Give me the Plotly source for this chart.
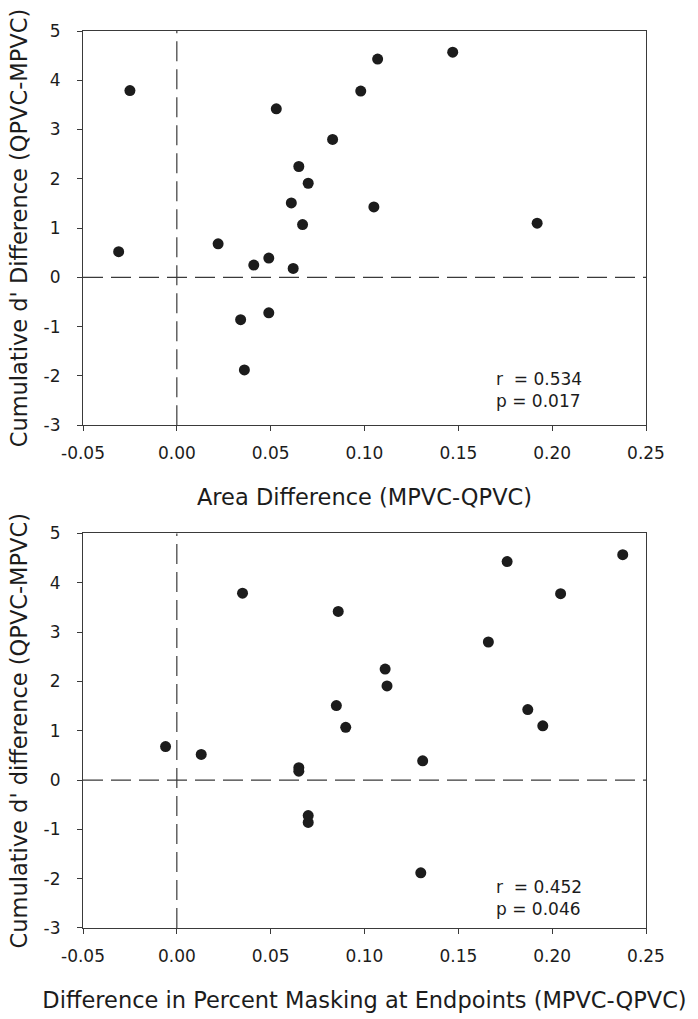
import plotly.graph_objects as go
from plotly.subplots import make_subplots

# Cumulative d' difference (QPVC-MPVC), one value per subject
d_prime_diff = [3.79, 0.52, 3.42, 2.80, 2.25, 1.91, 1.51, 1.07, 0.68, 0.25,
                0.39, 0.18, -0.86, -0.72, -1.88, 3.78, 4.43, 4.57, 1.43, 1.10]
# Area difference (MPVC-QPVC)
area_diff = [-0.025, -0.031, 0.053, 0.083, 0.065, 0.070, 0.061, 0.067, 0.022, 0.041,
             0.049, 0.062, 0.034, 0.049, 0.036, 0.098, 0.107, 0.147, 0.105, 0.192]
# Difference in percent masking at endpoints (MPVC-QPVC)
masking_diff = [0.035, 0.013, 0.086, 0.166, 0.111, 0.112, 0.085, 0.090, -0.006, 0.065,
                0.131, 0.065, 0.070, 0.070, 0.130, 0.2045, 0.176, 0.2376, 0.187, 0.195]

x_ticks = [-0.05, 0.00, 0.05, 0.10, 0.15, 0.20, 0.25]
x_ticklabels = ["-0.05", "0.00", "0.05", "0.10", "0.15", "0.20", "0.25"]
y_ticks = [-3, -2, -1, 0, 1, 2, 3, 4, 5]
y_ticklabels = ["-3", "-2", "-1", "0", "1", "2", "3", "4", "5"]

panels = [
    dict(x=area_diff, xtitle="Area Difference (MPVC-QPVC)",
         ytitle="Cumulative d' Difference (QPVC-MPVC)",
         stats="r  = 0.534<br>p = 0.017", stats_y=0.09),
    dict(x=masking_diff, xtitle="Difference in Percent Masking at Endpoints (MPVC-QPVC)",
         ytitle="Cumulative d' difference (QPVC-MPVC)",
         stats="r  = 0.452<br>p = 0.046", stats_y=0.076),
]

FONT = "DejaVu Sans"
INK = "#1c1c1c"
AXIS = "#3a3a3a"

fig = make_subplots(rows=2, cols=1)

for i, p in enumerate(panels, start=1):
    fig.add_trace(go.Scatter(
        x=p["x"], y=d_prime_diff, mode="markers",
        marker=dict(size=11, color=INK, line=dict(width=0)),
        showlegend=False, hoverinfo="x+y",
    ), row=i, col=1)

    # reference lines at zero
    fig.add_hline(y=0, line=dict(color=AXIS, width=1.2, dash="20px,8px"), row=i, col=1)
    fig.add_vline(x=0, line=dict(color=AXIS, width=1.2, dash="20px,8px"), row=i, col=1)

    fig.update_xaxes(
        range=[-0.05, 0.25], tickvals=x_ticks, ticktext=x_ticklabels,
        ticks="outside", ticklen=5, tickwidth=1.2, tickcolor=AXIS,
        showline=True, linecolor=AXIS, linewidth=1.2, mirror=True,
        showgrid=False, zeroline=False, ticklabelstandoff=7, automargin=False,
        tickfont=dict(family=FONT, size=17, color=INK),
        title=dict(text=p["xtitle"], font=dict(family=FONT, size=22.5, color=INK), standoff=27),
        row=i, col=1)
    fig.update_yaxes(
        range=[-3, 5], tickvals=y_ticks, ticktext=y_ticklabels,
        ticks="outside", ticklen=5, tickwidth=1.2, tickcolor=AXIS,
        showline=True, linecolor=AXIS, linewidth=1.2, mirror=True,
        showgrid=False, zeroline=False, ticklabelstandoff=13, automargin=False,
        tickfont=dict(family=FONT, size=17, color=INK),
        title=dict(text=p["ytitle"], font=dict(family=FONT, size=22.5, color=INK), standoff=9),
        row=i, col=1)

    xref = "x domain" if i == 1 else "x2 domain"
    yref = "y domain" if i == 1 else "y2 domain"
    fig.add_annotation(
        text=p["stats"], xref=xref, yref=yref, x=0.81, y=p["stats_y"],
        xanchor="center", yanchor="middle", showarrow=False, align="left",
        font=dict(family=FONT, size=17, color=INK))

fig.update_layout(
    width=698, height=1019,
    margin=dict(l=83, r=52, t=31, b=91),
    paper_bgcolor="white", plot_bgcolor="white",
    xaxis=dict(domain=[0, 1]), xaxis2=dict(domain=[0, 1]),
    yaxis=dict(domain=[0.5606, 1.0]), yaxis2=dict(domain=[0.0, 0.4398]),
)

# page body has a default 8px margin; drop it so the figure sits at the window corner
fig.write_html("out.html", config={"displayModeBar": False},
               post_script="document.body.style.margin = '0';")
